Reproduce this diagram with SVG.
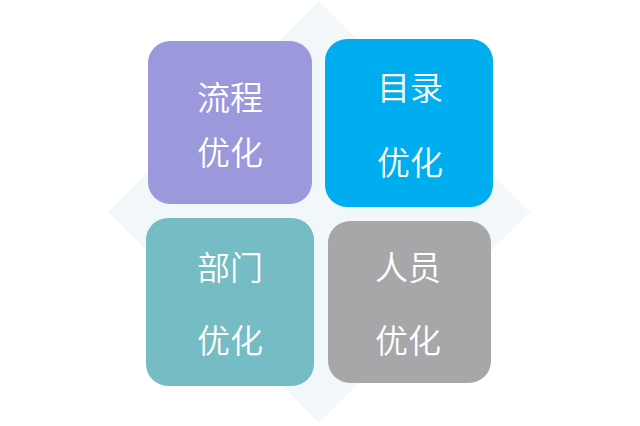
<svg xmlns="http://www.w3.org/2000/svg" width="640" height="426" viewBox="0 0 640 426">
<style>
.box{stroke:none}
.t{font-family:"Noto Sans CJK SC","Noto Sans",sans-serif;font-size:33px;font-weight:350;fill:#ffffff;text-anchor:middle}
</style>
<rect width="640" height="426" fill="#ffffff"/>
<polygon id="diamond" points="319,1 530,212 319,423 108,212" fill="#f2f7fa"/>
<g id="flow">
<rect class="box" x="148" y="41" width="164" height="163" rx="22" fill="#9b98dc"/>
<text class="t" x="230" y="110">流程</text>
<text class="t" x="230" y="165">优化</text>
</g>
<g id="catalog">
<rect class="box" x="325" y="39" width="168" height="168" rx="22" fill="#00aeef"/>
<text class="t" x="410" y="100">目录</text>
<text class="t" x="410" y="175">优化</text>
</g>
<g id="dept">
<rect class="box" x="146" y="218" width="168" height="168" rx="22" fill="#75bcc5"/>
<text class="t" x="230" y="280">部门</text>
<text class="t" x="230" y="353">优化</text>
</g>
<g id="staff">
<rect class="box" x="328" y="221" width="163" height="162" rx="22" fill="#a7a6a9"/>
<text class="t" x="408" y="280">人员</text>
<text class="t" x="408" y="353">优化</text>
</g>
<g id="connectors"/>
</svg>
